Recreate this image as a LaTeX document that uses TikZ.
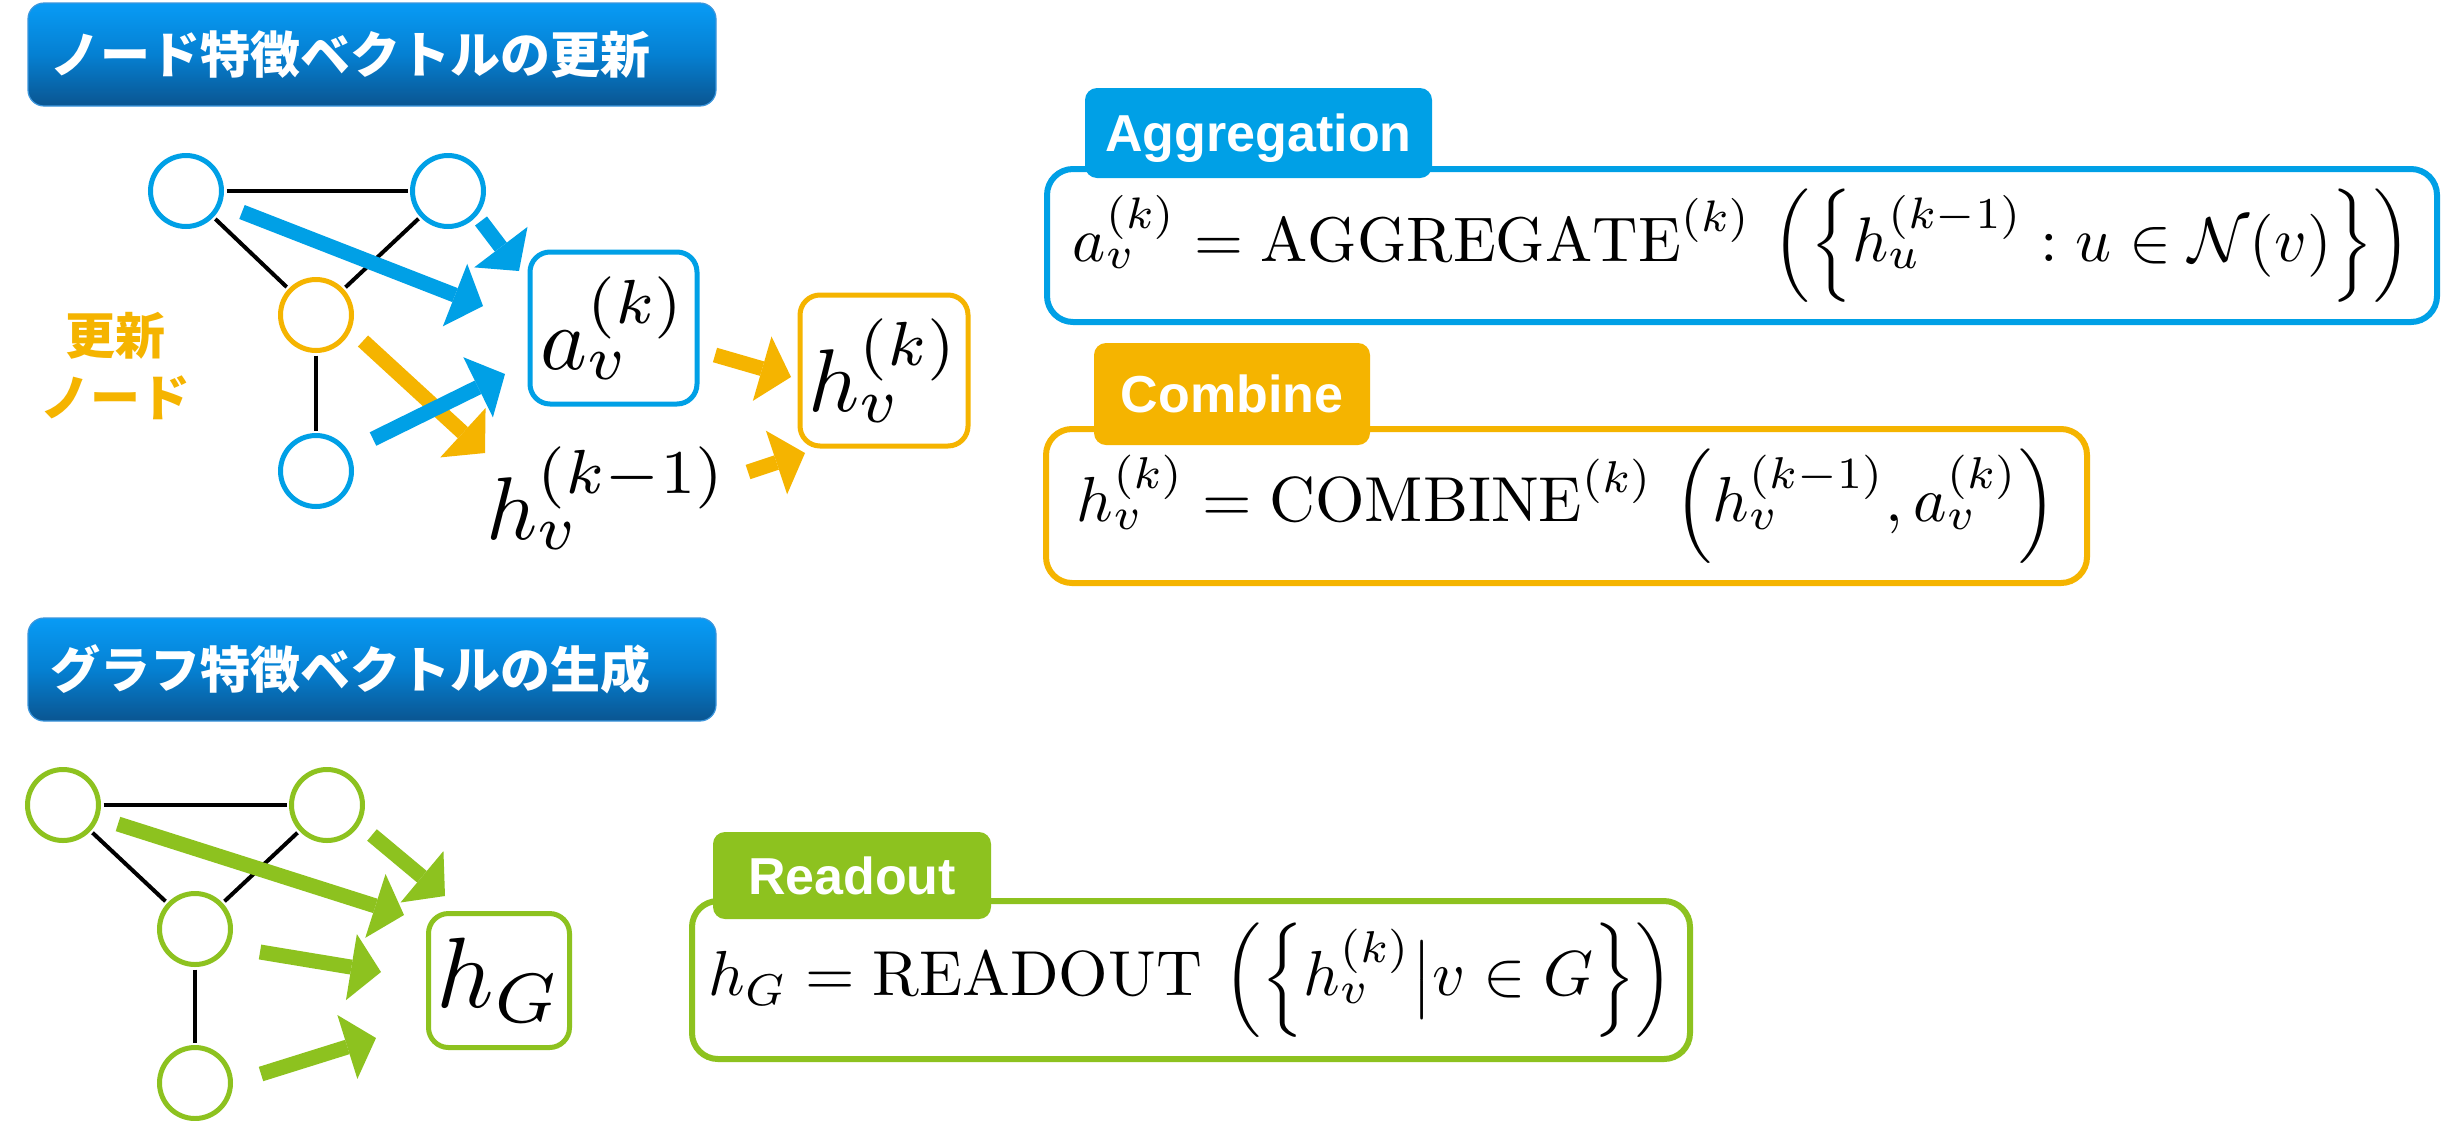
\documentclass[tikz,border=0pt]{standalone}
\usepackage{amsmath}
\usepackage{fontspec}
\newfontfamily\jpfont{Noto Sans CJK JP}
\newfontfamily\arialfont{Liberation Sans}
\usetikzlibrary{arrows.meta}
\definecolor{gblue}{RGB}{0,160,230}
\definecolor{gorange}{RGB}{245,180,0}
\definecolor{ggreen}{RGB}{141,194,31}
\definecolor{titletop}{RGB}{8,155,245}
\definecolor{titlemid}{RGB}{5,128,210}
\definecolor{titlebot}{RGB}{10,85,145}
\definecolor{titleline}{RGB}{60,150,220}
\newcommand{\fml}[2][3.18]{\scalebox{#1}{$#2$}}
\newcommand{\glbl}[1]{\scalebox{4.45}{$#1$}}
\begin{document}
\begin{tikzpicture}[x=0.5pt,y=-0.5pt,
  vtx/.style={circle,draw=#1,line width=2.5pt,fill=white,minimum size=35.5pt,inner sep=0pt},
  gedge/.style={line width=2pt,black,shorten <=1.25pt,shorten >=1.25pt},
  fatarrow/.style={line width=7.5pt,draw=#1,-{Triangle[length=15pt,width=33.5pt,line width=0pt]}},
  lbox/.style={draw=#1,line width=2.5pt,rounded corners=10pt,inner sep=0pt,fill=white},
  fbox/.style={draw=#1,line width=3pt,rounded corners=13pt,inner sep=0pt,fill=white},
  tabbox/.style={fill=#1,rounded corners=6pt,inner sep=0pt,text=white,font=\arialfont\bfseries\fontsize{26pt}{30pt}\selectfont,text height=18.6pt,text depth=0pt},
  titlebar/.style={top color=titletop,bottom color=titlebot,middle color=titlemid,draw=titleline,line width=0.6pt,rounded corners=8pt,minimum width=344pt,minimum height=51.5pt,text width=322pt,inner xsep=11pt,inner ysep=0pt,align=left,text=white,font=\jpfont\bfseries\fontsize{25pt}{30pt}\selectfont}
]
\useasboundingbox[fill=white] (0,0) rectangle (2445,1120);

% ---------- titles ----------
\node[titlebar] (t1) at (372,54.5) {ノード特徴ベクトルの更新};
\node[titlebar] (t2) at (372,669.5) {グラフ特徴ベクトルの生成};

% ---------- graph 1 ----------
\node[vtx=gblue] (n1a) at (186,191) {};
\node[vtx=gblue] (n1b) at (448,191) {};
\node[vtx=gorange] (n1c) at (316,315) {};
\node[vtx=gblue] (n1d) at (316,471) {};
\draw[gedge] (n1a) -- (n1b);
\draw[gedge] (n1a) -- (n1c);
\draw[gedge] (n1b) -- (n1c);
\draw[gedge] (n1c) -- (n1d);

\node[text=gorange,align=center,font=\jpfont\bfseries\fontsize{25pt}{31pt}\selectfont] (upd) at (115,366) {更新\\ノード};

\node[lbox=gblue,minimum width=83.5pt,minimum height=76pt] (av) at (613.5,328) {\glbl{a_v^{(k)}}};
\node[lbox=gorange,minimum width=84pt,minimum height=75.5pt] (hv) at (884,370.5) {\glbl{h_v^{(k)}}};
\node[inner sep=0pt] (hprev) at (607,498) {\glbl{h_v^{(k-1)}}};

\coordinate (b1s) at (242,212); \coordinate (b1e) at (483,306);
\coordinate (b2s) at (481,221); \coordinate (b2e) at (519,271);
\coordinate (b3s) at (373,439); \coordinate (b3e) at (505,374);
\coordinate (o1s) at (363,341); \coordinate (o1e) at (485,453);
\coordinate (o2s) at (715,355); \coordinate (o2e) at (791,377);
\coordinate (o3s) at (748,472); \coordinate (o3e) at (805,453);
\draw[fatarrow=gblue] (b1s) -- (b1e);
\draw[fatarrow=gblue] (b2s) -- (b2e);
\draw[fatarrow=gorange] (o1s) -- (o1e);
\draw[fatarrow=gblue] (b3s) -- (b3e);
\draw[fatarrow=gorange] (o2s) -- (o2e);
\draw[fatarrow=gorange] (o3s) -- (o3e);

% ---------- formulas ----------
\node[fbox=gblue,minimum width=695pt,minimum height=76.5pt] (aggbox) at (1742,245.5)
  {\fml[3.15]{a_v^{(k)} = \mathrm{AGGREGATE}^{(k)}\ \Bigl(\Bigl\{h_u^{(k-1)} : u \in \mathcal{N}(v)\Bigr\}\Bigr)}};
\node[tabbox=gblue,minimum width=173.5pt,minimum height=45pt] (aggtab) at (1258.5,133) {Aggregation};

\node[fbox=gorange,minimum width=520.5pt,minimum height=77pt] (combox) at (1566.5,506)
  {\fml{h_v^{(k)} = \mathrm{COMBINE}^{(k)}\ \Bigl(h_v^{(k-1)}, a_v^{(k)}\Bigr)}};
\node[tabbox=gorange,minimum width=138pt,minimum height=51pt] (comtab) at (1232,394) {Combine};

% ---------- graph 2 ----------
\node[vtx=ggreen] (n2a) at (63,805) {};
\node[vtx=ggreen] (n2b) at (327,805) {};
\node[vtx=ggreen] (n2c) at (195,929) {};
\node[vtx=ggreen] (n2d) at (195,1083) {};
\draw[gedge] (n2a) -- (n2b);
\draw[gedge] (n2a) -- (n2c);
\draw[gedge] (n2b) -- (n2c);
\draw[gedge] (n2c) -- (n2d);

\node[lbox=ggreen,minimum width=70.5pt,minimum height=67pt] (hg) at (499,980.5) {\scalebox{5}{$h_G$}};

\coordinate (g1s) at (118,824); \coordinate (g1e) at (404,915);
\coordinate (g2s) at (372,835); \coordinate (g2e) at (445,896);
\coordinate (g3s) at (260,952); \coordinate (g3e) at (381,972);
\coordinate (g4s) at (261,1074); \coordinate (g4e) at (376,1038);
\draw[fatarrow=ggreen] (g1s) -- (g1e);
\draw[fatarrow=ggreen] (g2s) -- (g2e);
\draw[fatarrow=ggreen] (g3s) -- (g3e);
\draw[fatarrow=ggreen] (g4s) -- (g4e);

\node[fbox=ggreen,minimum width=499pt,minimum height=79pt] (readbox) at (1191,980)
  {\fml{h_G = \mathrm{READOUT}\ \Bigl(\Bigl\{h_v^{(k)}\big|v \in G\Bigr\}\Bigr)}};
\node[tabbox=ggreen,minimum width=139pt,minimum height=43.5pt] (readtab) at (852,875.5) {Readout};
\end{tikzpicture}
\end{document}
